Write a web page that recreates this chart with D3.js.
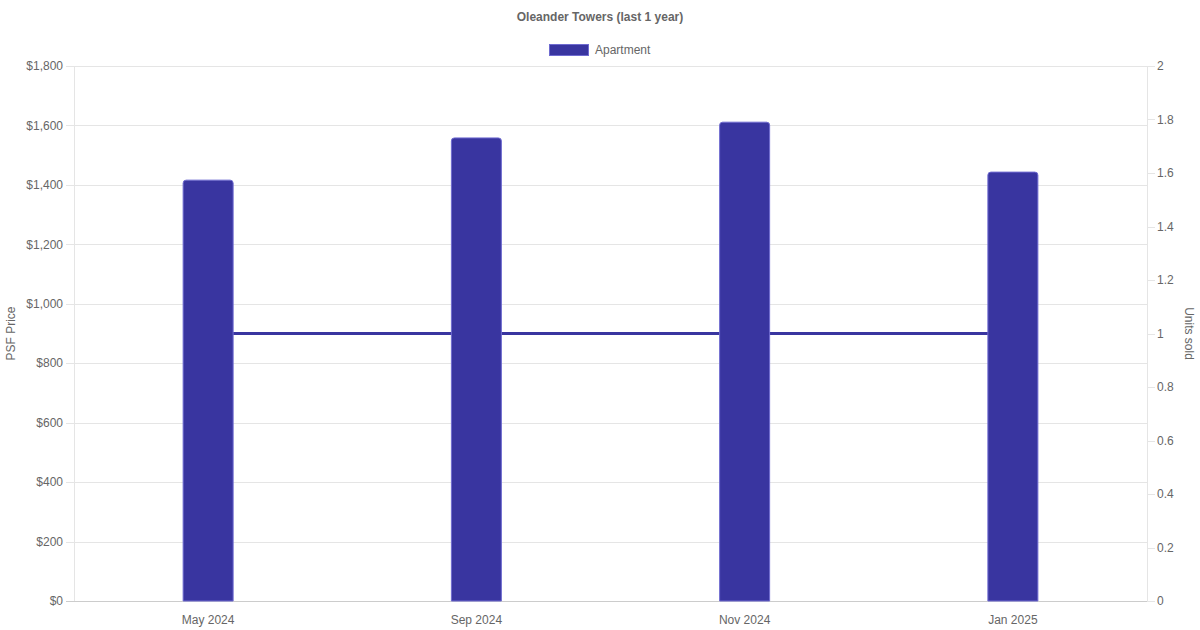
<!DOCTYPE html>
<html>
<head>
<meta charset="utf-8">
<script src="https://cdn.jsdelivr.net/npm/d3@7/dist/d3.min.js"></script>
<style>
  html, body { margin: 0; padding: 0; background: #fff; }
  svg { display: block; font-family: "Liberation Sans", Arial, sans-serif; }
</style>
</head>
<body>
<svg id="chart" width="1200" height="630"></svg>
<script>
const categories = ["May 2024", "Sep 2024", "Nov 2024", "Jan 2025"];
const psfPrice = [1416, 1558, 1611, 1443];
const unitsSold = [1, 1, 1, 1];
const leftTicks = [0, 200, 400, 600, 800, 1000, 1200, 1400, 1600, 1800];
const rightTicks = [0, 0.2, 0.4, 0.6, 0.8, 1, 1.2, 1.4, 1.6, 1.8, 2];
const seriesName = "Apartment";
const titleText = "Oleander Towers (last 1 year)";

const W = 1200, H = 630;
const m = { left: 74, right: 53, top: 66, bottom: 29 };
const x0 = m.left, x1 = W - m.right, y0 = H - m.bottom, y1 = m.top;
const barColor = "#3935a0";
const textColor = "#666";

const svg = d3.select("#chart");

const x = d3.scaleBand().domain(categories).range([x0, x1]).padding(0);
const yL = d3.scaleLinear().domain([0, 1800]).range([y0, y1]);
const yR = d3.scaleLinear().domain([0, 2]).range([y0, y1]);

// grid lines (left axis)
svg.append("g").selectAll("line").data(leftTicks).join("line")
  .attr("x1", x0 - 8).attr("x2", x1)
  .attr("y1", d => Math.round(yL(d)) + 0.5).attr("y2", d => Math.round(yL(d)) + 0.5)
  .attr("stroke", d => d === 0 ? "#ccc" : "#e5e5e5").attr("stroke-width", 1);

// axis lines
svg.append("line").attr("x1", x0 + 0.5).attr("x2", x0 + 0.5).attr("y1", y1).attr("y2", y0)
  .attr("stroke", "#e5e5e5");
svg.append("line").attr("x1", x1 + 0.5).attr("x2", x1 + 0.5).attr("y1", y1).attr("y2", y0)
  .attr("stroke", "#e5e5e5");

// right ticks
svg.append("g").selectAll("line").data(rightTicks).join("line")
  .attr("x1", x1).attr("x2", x1 + 8)
  .attr("y1", d => Math.round(yR(d)) + 0.5).attr("y2", d => Math.round(yR(d)) + 0.5)
  .attr("stroke", "#e5e5e5");

// left tick labels
const fmt = d => "$" + d3.format(",")(d);
svg.append("g").selectAll("text").data(leftTicks).join("text")
  .attr("x", x0 - 11).attr("y", d => yL(d)).attr("dy", "0.35em")
  .attr("text-anchor", "end").attr("font-size", 12).attr("fill", textColor)
  .text(fmt);

// right tick labels
svg.append("g").selectAll("text").data(rightTicks).join("text")
  .attr("x", x1 + 10).attr("y", d => yR(d)).attr("dy", "0.35em")
  .attr("text-anchor", "start").attr("font-size", 12).attr("fill", textColor)
  .text(d => String(d));

// x labels
svg.append("g").selectAll("text").data(categories).join("text")
  .attr("x", d => x(d) + x.bandwidth() / 2).attr("y", y0 + 19).attr("dy", "0.35em")
  .attr("text-anchor", "middle").attr("font-size", 12).attr("fill", textColor)
  .text(d => d);

// axis titles
svg.append("text").attr("transform", `translate(15,${(y0 + y1) / 2}) rotate(-90)`)
  .attr("text-anchor", "middle").attr("font-size", 12).attr("fill", textColor).text("PSF Price");
svg.append("text").attr("transform", `translate(1185,${(y0 + y1) / 2}) rotate(90)`)
  .attr("text-anchor", "middle").attr("font-size", 12).attr("fill", textColor).text("Units sold");

// line (under bars)
const line = d3.line().x((d, i) => x(categories[i]) + x.bandwidth() / 2).y(d => yR(d));
svg.append("path").datum(unitsSold).attr("d", line)
  .attr("fill", "none").attr("stroke", barColor).attr("stroke-width", 3);

// bars with rounded top corners
const bw = 50;
const r = 3;
svg.append("g").selectAll("path").data(psfPrice).join("path")
  .attr("d", (d, i) => {
    const cx = x(categories[i]) + x.bandwidth() / 2;
    const l = cx - bw / 2, rr = cx + bw / 2, t = yL(d), b = y0;
    return `M${l},${b}V${t + r}Q${l},${t} ${l + r},${t}H${rr - r}Q${rr},${t} ${rr},${t + r}V${b}Z`;
  })
  .attr("fill", barColor).attr("stroke", "#6f6bd0").attr("stroke-width", 1);

// title
svg.append("text").attr("x", W / 2).attr("y", 17).attr("dy", "0.35em")
  .attr("text-anchor", "middle").attr("font-size", 12).attr("font-weight", "bold")
  .attr("fill", textColor).text(titleText);

// legend
svg.append("rect").attr("x", 549.5).attr("y", 44.5).attr("width", 39).attr("height", 11)
  .attr("fill", barColor).attr("stroke", "#6f6bd0").attr("stroke-width", 1);
svg.append("text").attr("x", 595).attr("y", 50).attr("dy", "0.35em")
  .attr("font-size", 12).attr("fill", textColor).text(seriesName);
</script>
</body>
</html>
